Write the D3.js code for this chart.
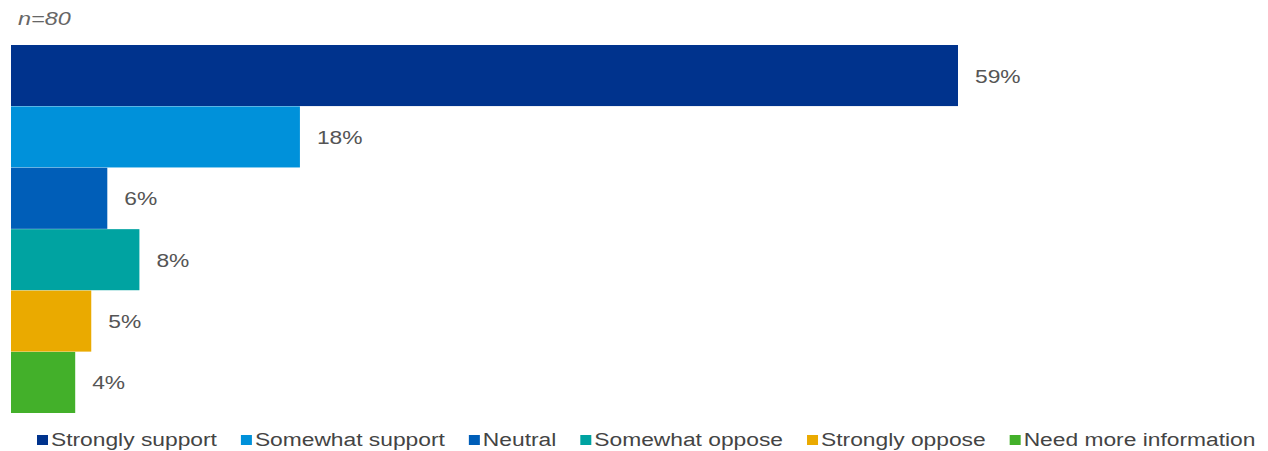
<!DOCTYPE html>
<html>
<head>
<meta charset="utf-8">
<script src="https://cdn.jsdelivr.net/npm/d3@7"></script>
<style>
  html, body { margin: 0; padding: 0; background: #fff; }
  svg { display: block; font-family: "Liberation Sans", Arial, sans-serif; }
</style>
</head>
<body>
<div id="chart"></div>
<script>
// survey answers, n=80
const categories = ["Strongly support", "Somewhat support", "Neutral", "Somewhat oppose", "Strongly oppose", "Need more information"];
const values = [59, 18, 6, 8, 5, 4];
const colors = ["#00338D", "#0091DA", "#005EB8", "#00A3A1", "#EAAA00", "#43B02A"];
const note = "n=80";

const width = 1268, height = 451;
const margin = { top: 45, left: 11, bottom: 38 };
const stretch = 1.2; // text in the source looks horizontally stretched

const svg = d3.select("#chart").append("svg")
    .attr("width", width).attr("height", height);

const x = d3.scaleLinear().domain([0, 59]).range([margin.left, 958]);
const y = d3.scaleBand().domain(categories)
    .range([margin.top, height - margin.bottom]).paddingInner(0.005);

// bars
svg.selectAll("rect.bar").data(categories).enter().append("rect")
    .attr("class", "bar")
    .attr("x", x(0))
    .attr("y", d => y(d))
    .attr("width", (d, i) => x(values[i]) - x(0))
    .attr("height", y.bandwidth())
    .attr("fill", (d, i) => colors[i]);

// value labels
svg.selectAll("text.val").data(categories).enter().append("text")
    .attr("class", "val")
    .attr("transform", (d, i) => `translate(${x(values[i]) + 17},${y(d) + y.bandwidth() / 2 + 7}) scale(${stretch},1)`)
    .style("font-size", "19px")
    .style("fill", "#555")
    .text((d, i) => values[i] + "%");

// n note
svg.append("text")
    .attr("transform", `translate(18,25) scale(1.3,1)`)
    .style("font-size", "18px")
    .style("font-style", "italic")
    .style("fill", "#666")
    .text(note);

// legend, laid out in a row
const legend = svg.append("g").attr("class", "legend");
let lx = 37;
categories.forEach((c, i) => {
    const item = legend.append("g").attr("transform", `translate(${lx},0)`);
    item.append("rect").attr("x", 0).attr("y", 435).attr("width", 11).attr("height", 10)
        .attr("fill", colors[i]);
    const t = item.append("text")
        .attr("transform", `translate(14,446) scale(${stretch},1)`)
        .style("font-size", "19px")
        .style("fill", "#444")
        .text(c);
    lx += 14 + t.node().getComputedTextLength() * stretch + 24;
});
</script>
</body>
</html>
